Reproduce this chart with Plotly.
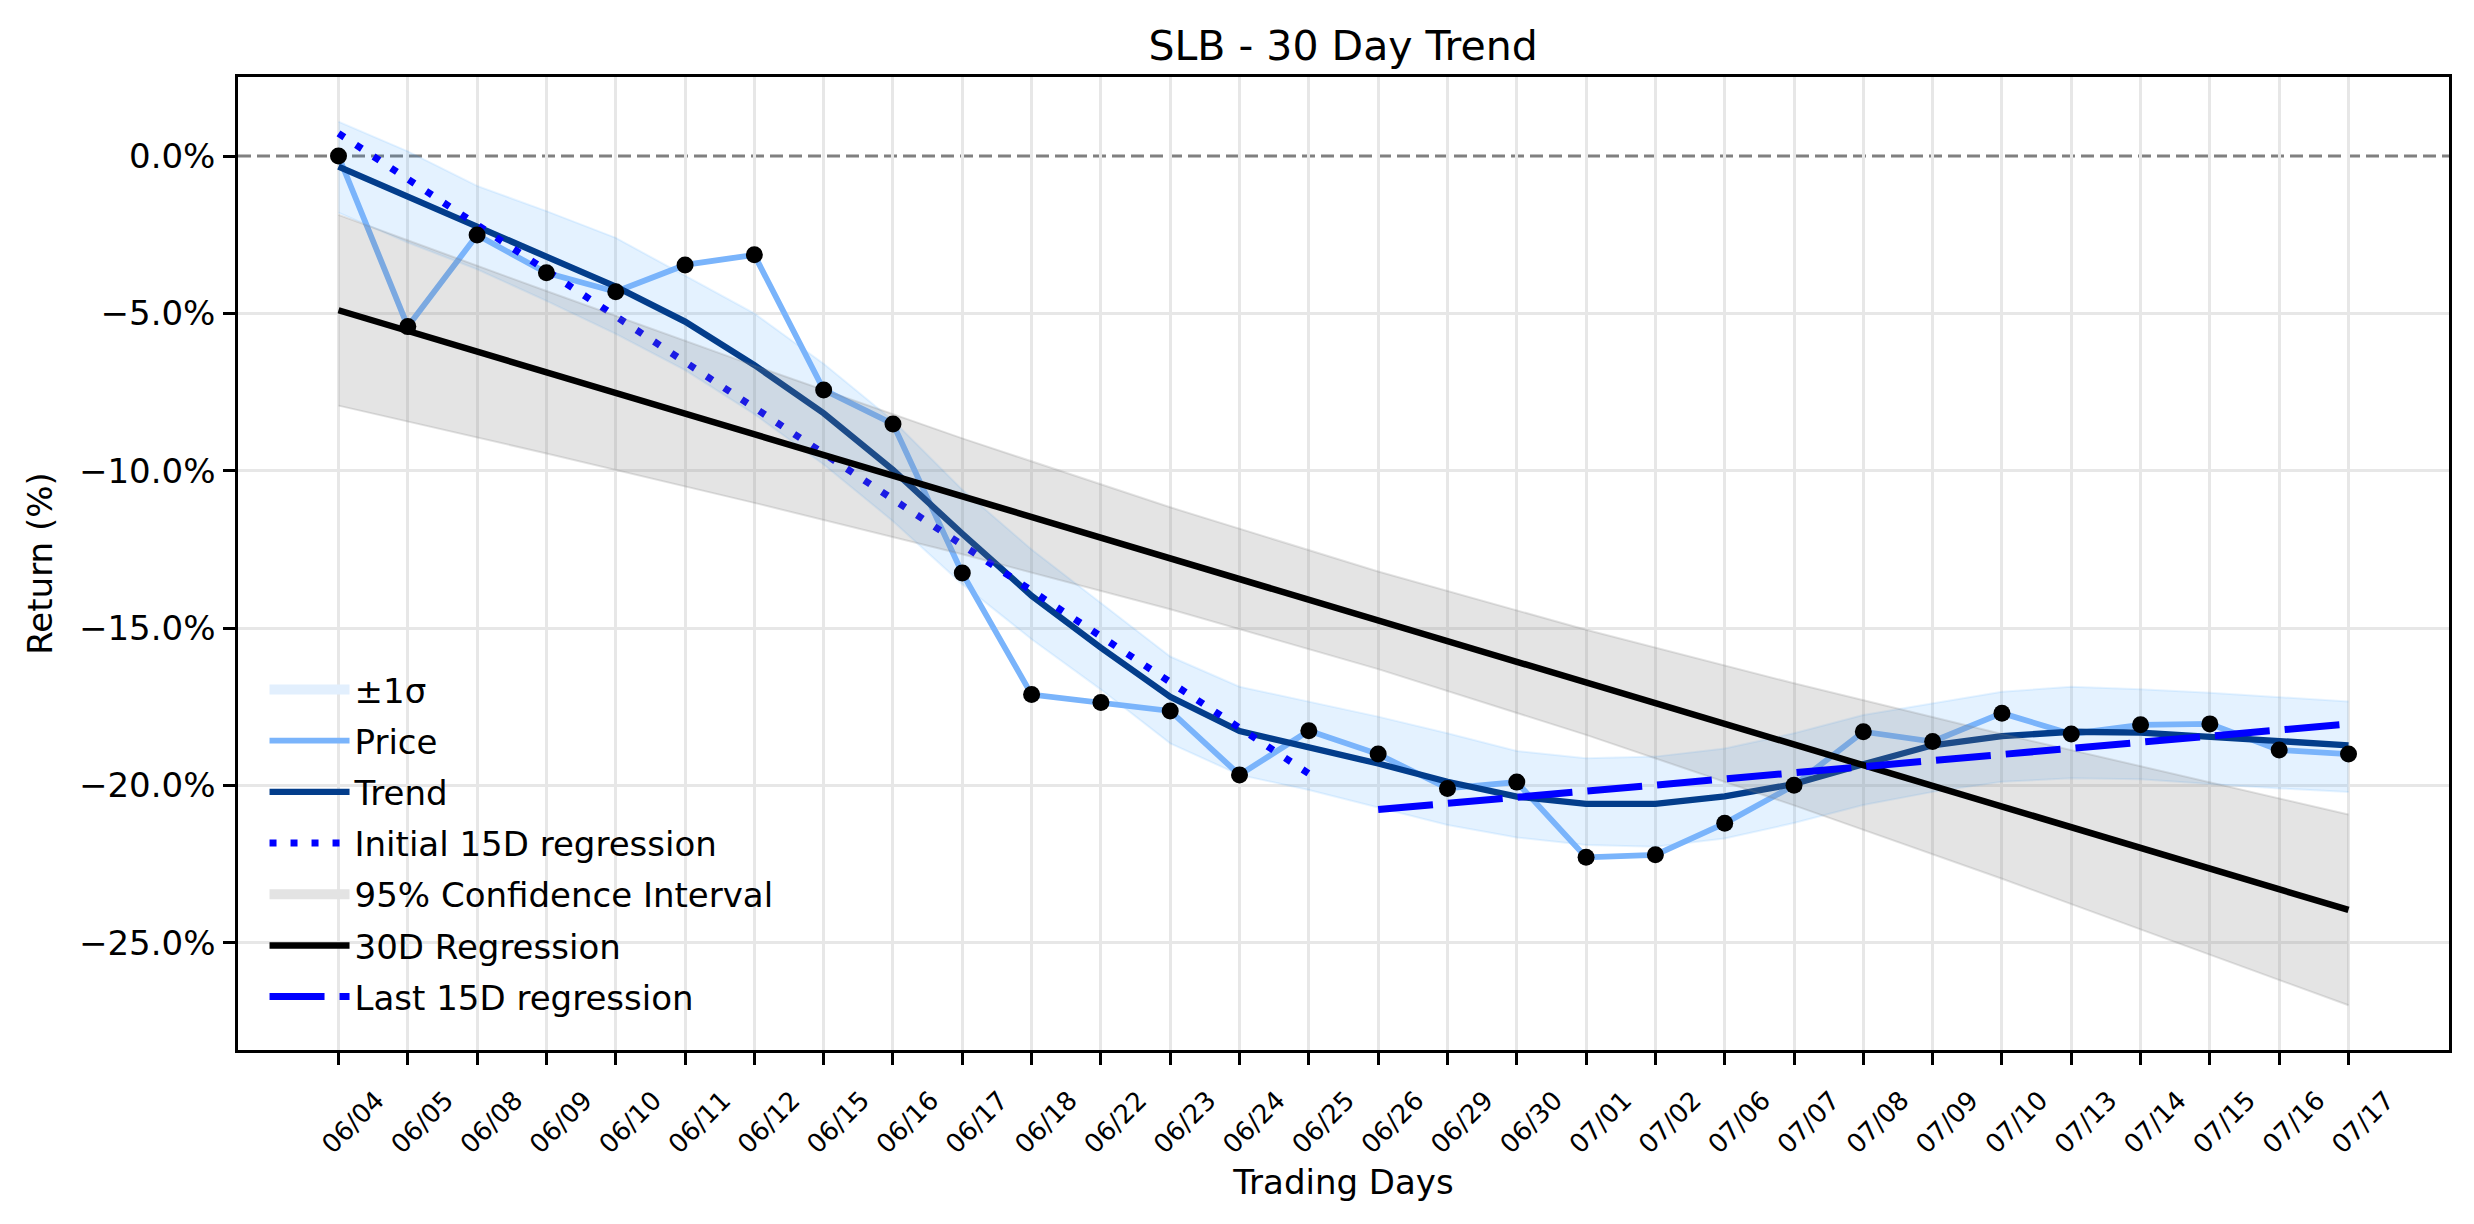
import plotly.graph_objects as go

# ---------------- data ----------------
dates = ["06/04", "06/05", "06/08", "06/09", "06/10", "06/11", "06/12", "06/15",
         "06/16", "06/17", "06/18", "06/22", "06/23", "06/24", "06/25", "06/26",
         "06/29", "06/30", "07/01", "07/02", "07/06", "07/07", "07/08", "07/09",
         "07/10", "07/13", "07/14", "07/15", "07/16", "07/17"]

price = [0.0, -5.42, -2.51, -3.71, -4.31, -3.46, -3.14, -7.43, -8.51, -13.25,
         -17.11, -17.36, -17.63, -19.66, -18.26, -19.0, -20.09, -19.89, -22.28, -22.2,
         -21.2, -19.99, -18.29, -18.6, -17.7, -18.36, -18.07, -18.04, -18.87, -19.0]

trend = [-0.34, -1.29, -2.25, -3.2, -4.15, -5.26, -6.64, -8.17, -9.97, -12.0,
         -13.97, -15.62, -17.18, -18.27, -18.78, -19.3, -19.88, -20.35, -20.58, -20.58,
         -20.34, -19.95, -19.32, -18.72, -18.43, -18.29, -18.32, -18.45, -18.59, -18.72]

sigma_upper = [1.09, 0.15, -0.95, -1.75, -2.6, -3.8, -5.0, -6.6, -8.4, -10.6,
               -12.5, -14.2, -15.9, -16.86, -17.33, -17.81, -18.34, -18.9, -19.13, -19.08,
               -18.82, -18.34, -17.76, -17.39, -17.02, -16.86, -16.94, -17.05, -17.18, -17.33]

sigma_lower = [-1.8, -2.75, -3.6, -4.6, -5.65, -6.8, -8.2, -9.8, -11.6, -13.6,
               -15.35, -16.95, -18.66, -19.66, -20.14, -20.69, -21.25, -21.65, -21.89, -21.94,
               -21.68, -21.19, -20.62, -20.2, -19.88, -19.77, -19.8, -19.95, -20.09, -20.2]

ci_dates = ["06/04", "06/09", "06/12", "06/17", "06/23", "06/26", "07/01", "07/07",
            "07/10", "07/15", "07/17"]
ci_upper = [-1.87, -4.29, -6.66, -8.97, -11.16, -13.2, -15.05, -16.75, -18.36, -19.9, -20.92]
ci_lower = [-7.93, -9.45, -11.02, -12.65, -14.4, -16.3, -18.39, -20.63, -22.96, -25.36, -26.98]

reg30_dates = ["06/04", "07/17"]
reg30_vals = [-4.9, -23.95]

init_dates = ["06/04", "06/25"]
init_vals = [0.72, -19.62]

last_dates = ["06/26", "07/17"]
last_vals = [-20.76, -18.04]

y_ticks = [-25, -20, -15, -10, -5, 0]

# ---------------- figure ----------------
idx = {d: i for i, d in enumerate(dates)}
xs = list(range(len(dates)))
pos = lambda ds: [idx[d] for d in ds]

FONT = "DejaVu Sans"
SIG_FILL = "rgba(30,144,255,0.12)"
SIG_EDGE = "rgba(30,144,255,0.10)"
CI_FILL = "rgba(128,128,128,0.21)"
CI_EDGE = "rgba(128,128,128,0.22)"
GRID = "#e7e7e7"

fig = go.Figure()

# ±1σ band
fig.add_trace(go.Scatter(x=xs, y=sigma_lower, mode="lines",
                         line=dict(color=SIG_EDGE, width=2), showlegend=False,
                         hoverinfo="skip"))
fig.add_trace(go.Scatter(x=xs, y=sigma_upper, mode="lines", fill="tonexty",
                         fillcolor=SIG_FILL, line=dict(color=SIG_EDGE, width=2),
                         showlegend=False, hoverinfo="skip"))
# legend swatch for the ±1σ band
fig.add_trace(go.Scatter(x=[None], y=[None], mode="lines", name="±1σ",
                         line=dict(color="#e2effd", width=24),
                         legendrank=1, legendgroup="g1"))
# price
fig.add_trace(go.Scatter(x=xs, y=price, mode="lines", name="Price",
                         line=dict(color="#7ab4fb", width=5.8),
                         legendrank=2, legendgroup="g2"))
# trend
fig.add_trace(go.Scatter(x=xs, y=trend, mode="lines", name="Trend",
                         line=dict(color="#033d8b", width=6.3),
                         legendrank=3, legendgroup="g3"))
# initial 15D regression
fig.add_trace(go.Scatter(x=pos(init_dates), y=init_vals, mode="lines",
                         name="Initial 15D regression",
                         line=dict(color="#0000ff", width=7, dash="7px,14px"),
                         legendrank=4, legendgroup="g4"))
# 95% CI
ci_x = pos(ci_dates)
fig.add_trace(go.Scatter(x=ci_x, y=ci_lower, mode="lines",
                         line=dict(color=CI_EDGE, width=2), showlegend=False,
                         hoverinfo="skip"))
fig.add_trace(go.Scatter(x=ci_x, y=ci_upper, mode="lines", fill="tonexty",
                         fillcolor=CI_FILL, line=dict(color=CI_EDGE, width=2),
                         showlegend=False, hoverinfo="skip"))
fig.add_trace(go.Scatter(x=[None], y=[None], mode="lines",
                         name="95% Confidence Interval",
                         line=dict(color="#e3e3e3", width=24),
                         legendrank=5, legendgroup="g5"))
# 30D regression
fig.add_trace(go.Scatter(x=pos(reg30_dates), y=reg30_vals, mode="lines",
                         name="30D Regression", line=dict(color="black", width=6.5),
                         legendrank=6, legendgroup="g6"))
# last 15D regression
fig.add_trace(go.Scatter(x=pos(last_dates), y=last_vals, mode="lines",
                         name="Last 15D regression",
                         line=dict(color="#0000ff", width=7, dash="55px,15px"),
                         legendrank=7, legendgroup="g7"))
# price points
fig.add_trace(go.Scatter(x=xs, y=price, mode="markers", showlegend=False,
                         marker=dict(color="black", size=17)))

# zero reference line
fig.add_shape(type="line", xref="paper", x0=0, x1=1, yref="y", y0=0, y1=0,
              line=dict(color="#808080", width=3, dash="13px,6px"), layer="between")

fig.update_layout(
    width=2474, height=1224,
    margin=dict(l=238, r=25, t=77, b=174),
    paper_bgcolor="white", plot_bgcolor="white",
    font=dict(family=FONT, size=34, color="black"),
    title=dict(text="SLB - 30 Day Trend", x=0.5429, xanchor="center",
               y=0.963, yanchor="middle", yref="container",
               font=dict(size=41, color="black")),
    legend=dict(x=0.012, y=0.40, xanchor="left", yanchor="top",
                bgcolor="rgba(0,0,0,0)", borderwidth=0,
                font=dict(size=34), tracegroupgap=4, itemwidth=80),
    showlegend=True,
)

fig.update_xaxes(
    range=[-1.45, 30.45], tickmode="array", tickvals=xs, ticktext=dates,
    tickangle=-45, tickfont=dict(size=26), ticks="outside", ticklen=12,
    tickwidth=2.5, tickcolor="black", ticklabelshift=38, ticklabelstandoff=10,
    showgrid=True, gridcolor=GRID, gridwidth=2.7, zeroline=False,
    showline=True, linecolor="black", linewidth=2.5, mirror=True,
    title=dict(text="Trading Days", font=dict(size=34), standoff=12),
)
fig.update_yaxes(
    range=[-28.4, 2.51], tickmode="array", tickvals=y_ticks,
    ticktext=[("\u2212" if v < 0 else "") + f"{abs(v):.1f}%" for v in y_ticks],
    tickfont=dict(size=34), ticks="outside", ticklen=12, tickwidth=2.5,
    tickcolor="black", ticklabelstandoff=1,
    showgrid=False, zeroline=False,
    minor=dict(tickvals=[v for v in y_ticks if v != 0], ticks="",
               showgrid=True, gridcolor=GRID, gridwidth=2.7),
    showline=True, linecolor="black", linewidth=2.5, mirror=True,
    title=dict(text="Return (%)", font=dict(size=34), standoff=17),
)

fig.write_html("out.html")
